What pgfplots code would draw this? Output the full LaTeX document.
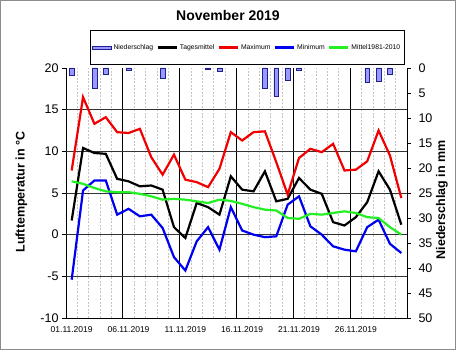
\documentclass[border=0pt]{standalone}
\usepackage{fontspec}
\setmainfont{Liberation Sans}
\usepackage{pgfplots}
\pgfplotsset{compat=1.18}
\definecolor{barfill}{HTML}{9999FF}
\definecolor{bardraw}{HTML}{20208A}
\definecolor{mgreen}{HTML}{22F022}
\definecolor{mblue}{HTML}{0000F0}
\definecolor{mred}{HTML}{F00000}
\definecolor{dgrid}{HTML}{C4C4C4}

\pgfplotstableread{
d tmax tmean tmin tnorm
1 7.7 1.7 -5.4 6.4
2 16.5 10.4 5.3 6.1
3 13.3 9.8 6.5 5.6
4 14.1 9.7 6.5 5.2
5 12.3 6.7 2.4 5.1
6 12.2 6.4 3.1 5.1
7 12.7 5.8 2.2 4.9
8 9.3 5.9 2.4 4.6
9 7.2 5.4 0.8 4.2
10 9.6 0.9 -2.7 4.3
11 6.6 -0.4 -4.3 4.2
12 6.3 3.8 -0.8 4.0
13 5.7 3.3 0.9 3.8
14 7.9 2.4 -1.8 4.2
15 12.3 7.0 3.3 4.05
16 11.3 5.4 0.5 3.7
17 12.3 5.2 0.0 3.3
18 12.4 7.6 -0.3 3.0
19 8.7 4.0 -0.2 2.9
20 4.8 4.3 3.6 2.0
21 9.2 6.8 4.6 1.9
22 10.3 5.4 1.0 2.5
23 9.9 4.9 0.0 2.4
24 10.9 1.5 -1.4 2.6
25 7.7 1.1 -1.8 2.8
26 7.8 2.1 -2.0 2.6
27 8.8 3.9 0.9 2.1
28 12.5 7.6 1.8 2.0
29 9.5 5.4 -1.1 0.9
30 4.4 1.2 -2.2 0.0
}\temps

\pgfplotstableread{
d rr
1 1.4
3 4.0
4 1.3
6 0.5
9 2.0
13 0.3
14 0.7
18 4.1
19 5.6
20 2.5
21 0.4
27 2.9
28 2.7
29 1.2
}\rain

\begin{document}
\begin{tikzpicture}
\useasboundingbox (0,0) rectangle (456pt,350pt);
\draw[black!45, line width=1.2pt] (0.6pt,0.6pt) rectangle (455.4pt,349.4pt);
\node[font=\bfseries\fontsize{14}{16}\selectfont] at (228pt,334pt) {November 2019};

\begin{axis}[
  at={(66pt,32pt)}, anchor=south west, scale only axis,
  width=341pt, height=250pt,
  xmin=0.5, xmax=30.5, ymin=-10, ymax=20,
  axis x line*=bottom, axis y line*=left,
  axis line style={black, line width=0.8pt},
  /pgf/number format/assume math mode=true,
  xtick={1,6,11,16,21,26},
  xticklabels={01.11.2019,06.11.2019,11.11.2019,16.11.2019,21.11.2019,26.11.2019},
  xticklabel style={font=\fontsize{8.5}{10}\selectfont, yshift=-1pt},
  xtick style={draw=none},
  minor xtick={1.5,2.5,3.5,4.5,6.5,7.5,8.5,9.5,11.5,12.5,13.5,14.5,16.5,17.5,18.5,19.5,21.5,22.5,23.5,24.5,26.5,27.5,28.5,29.5},
  xminorgrids=true,
  minor grid style={dgrid, line width=0.6pt, dash pattern=on 2pt off 1.5pt},
  extra x ticks={5.5,10.5,15.5,20.5,25.5},
  extra x tick labels={},
  extra x tick style={grid=major, major grid style={black, line width=0.7pt}, xtick style={draw=none}},
  ytick={-10,-5,...,20},
  yticklabel style={font=\fontsize{12.5}{14}\selectfont},
  extra y ticks={-5,0,5,10,15},
  extra y tick labels={},
  extra y tick style={grid=major, major grid style={black!80, line width=0.7pt}},
  tick align=outside, major tick length=4pt,
  y tick style={black, line width=0.7pt},
  ylabel={Lufttemperatur in °C},
  ylabel style={font=\bfseries\fontsize{12.5}{14}\selectfont, at={(axis description cs:-0.1305,0.504)}, anchor=center},
  legend columns=5,
  legend style={at={(axis description cs:0.531,1.082)}, anchor=center, draw=black, line width=0.6pt,
    font=\fontsize{6.8}{8}\selectfont, inner xsep=2pt, inner ysep=12pt,
    /tikz/every even column/.append style={column sep=1.5pt}},
  legend image code/.code={\draw[#1, line width=2.2pt] (0pt,0pt) -- (19pt,0pt);},
]
\addlegendimage{legend image code/.code={\draw[fill=barfill, draw=bardraw, line width=0.6pt] (0pt,-1.6pt) rectangle (19pt,1.6pt);}}
\addlegendentry{Niederschlag}
\addplot[black, line width=2.2pt] table[x=d, y=tmean] {\temps};
\addlegendentry{Tagesmittel}
\addplot[mred, line width=2.2pt] table[x=d, y=tmax] {\temps};
\addlegendentry{Maximum}
\addplot[mblue, line width=2.2pt] table[x=d, y=tmin] {\temps};
\addlegendentry{Minimum}
\addplot[mgreen, line width=2.2pt] table[x=d, y=tnorm] {\temps};
\addlegendentry{Mittel1981-2010}
\end{axis}

\begin{axis}[
  at={(66pt,32pt)}, anchor=south west, scale only axis,
  width=341pt, height=250pt,
  xmin=0.5, xmax=30.5, ymin=0, ymax=50, y dir=reverse,
  axis x line=none, axis y line*=right,
  axis line style={black, line width=0.8pt},
  /pgf/number format/assume math mode=true,
  ytick={0,5,...,50},
  yticklabel style={font=\fontsize{12.5}{14}\selectfont, xshift=4pt},
  tick align=outside, major tick length=4pt,
  y tick style={black, line width=0.7pt},
  ylabel={Niederschlag in mm},
  ylabel style={font=\bfseries\fontsize{12.5}{14}\selectfont, at={(axis description cs:1.1026,0.472)}, anchor=center},
]
\addplot[ybar, bar width=4.8pt, fill=barfill, draw=bardraw, line width=0.6pt] table[x=d, y=rr] {\rain};
\end{axis}
\end{tikzpicture}
\end{document}
